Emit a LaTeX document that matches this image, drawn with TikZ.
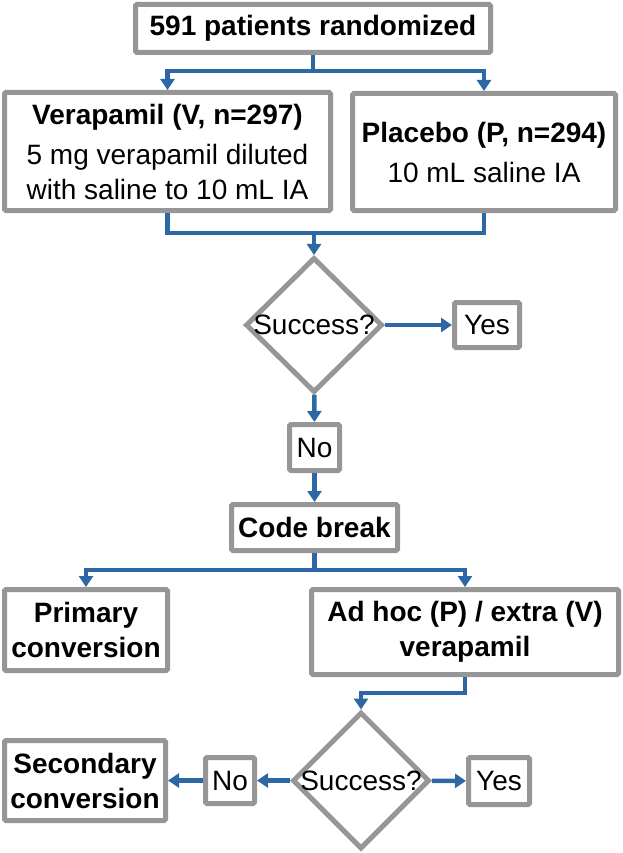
\documentclass[tikz,border=0pt]{standalone}
\usepackage{fontspec}
\setmainfont{Liberation Sans}
\usetikzlibrary{shapes.geometric,arrows.meta}
\definecolor{boxgray}{RGB}{150,150,150}
\definecolor{flowblue}{RGB}{46,103,166}
\begin{document}
\begin{tikzpicture}[x=1pt, y=-1pt,
    box/.style={draw=boxgray, line width=5pt, fill=white, inner sep=0pt, align=center,
                rounded corners=1.5pt, font=\fontsize{28}{35}\selectfont},
    decision/.style={diamond, draw=boxgray, line width=5pt, fill=white, inner sep=0pt,
                     minimum width=137pt, minimum height=135pt, font=\fontsize{28}{35}\selectfont},
    link/.style={draw=flowblue, line width=4.5pt},
    flow/.style={link, -{Triangle[width=14pt, length=11pt]}}]
  \useasboundingbox (0,0) rectangle (622,853);
  \node[box, minimum width=355pt, minimum height=48pt] (rand) at (313,28.5) {\textbf{591 patients randomized}};
  \node[box, minimum width=326pt, minimum height=118pt] (vera) at (167.5,151.5)
    {\textbf{Verapamil (V, n=297)}\\[5pt]5 mg verapamil diluted\\with saline to 10 mL IA};
  \node[box, minimum width=263pt, minimum height=117pt, font=\fontsize{28}{40}\selectfont] (plac) at (484,152)
    {\textbf{Placebo (P, n=294)}\\10 mL saline IA};
  \node[decision] (succ1) at (314,325) {\makebox[0pt]{Success?}};
  \node[box, minimum width=65pt, minimum height=45pt] (yes1) at (487,325) {Yes};
  \node[box, minimum width=50pt, minimum height=46pt] (no1) at (314.5,447.5) {No};
  \node[box, minimum width=166pt, minimum height=46pt] (code) at (314.5,527.5) {\textbf{Code break}};
  \node[box, minimum width=163pt, minimum height=81pt] (prim) at (86,630) {\textbf{Primary}\\\textbf{conversion}};
  \node[box, minimum width=307pt, minimum height=85pt] (adhoc) at (465,632) {\textbf{Ad hoc (P) / extra (V)}\\\textbf{verapamil}};
  \node[decision, minimum width=137pt, minimum height=137pt] (succ2) at (361,780.5) {\makebox[0pt]{Success?}};
  \node[box, minimum width=61pt, minimum height=47pt] (yes2) at (499,781) {Yes};
  \node[box, minimum width=49pt, minimum height=46pt] (no2) at (230,780.5) {No};
  \node[box, minimum width=161pt, minimum height=80pt] (sec) at (85,780.5) {\textbf{Secondary}\\\textbf{conversion}};

  \coordinate (split1) at (313,71);
  \coordinate (merge1) at (314,233);
  \coordinate (split2) at (314.5,570);
  \draw[link] (rand) -- (split1);
  \draw[flow] (split1) -| (vera);
  \draw[flow] (split1) -| (plac);
  \draw[link] (vera.south) |- (merge1) -| (plac.south);
  \draw[flow] (merge1) -- (succ1);
  \draw[flow] (succ1) -- (yes1);
  \draw[flow] (succ1) -- (no1);
  \draw[flow] (no1) -- (code);
  \draw[link] (code) -- (split2);
  \draw[flow] (split2) -| (prim);
  \draw[flow] (split2) -| (adhoc);
  \draw[flow] (adhoc.south) -- ++(0,16) -| (succ2);
  \draw[flow] (succ2) -- (yes2);
  \draw[flow] (succ2) -- (no2);
  \draw[flow] (no2) -- (sec);
\end{tikzpicture}
\end{document}
